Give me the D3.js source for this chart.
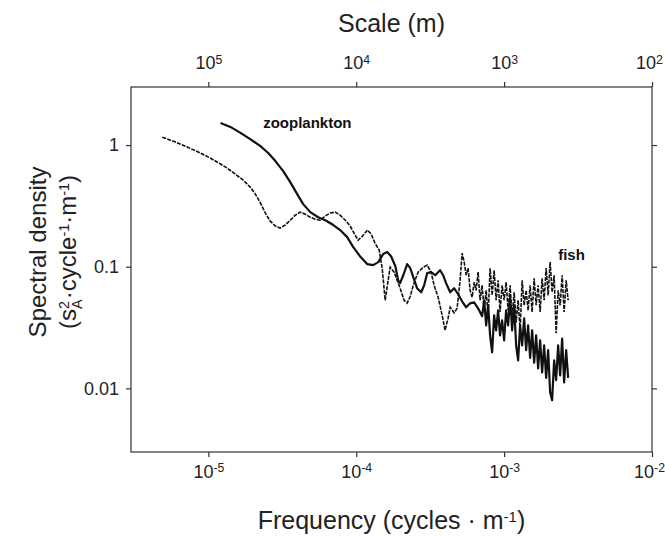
<!DOCTYPE html>
<html>
<head>
<meta charset="utf-8">
<script src="https://cdn.jsdelivr.net/npm/d3@7"></script>
<style>
  body { margin: 0; background: #fff; }
  svg { font-family: "Liberation Sans", Arial, Helvetica, sans-serif; }
</style>
</head>
<body>
<div id="chart"></div>
<script>
// spectra (frequency in cycles/m, density in sA^2 cycle^-1 m^-1)
var zooFreq = [
  1.21e-5, 1.41e-5, 1.65e-5, 1.92e-5, 2.25e-5, 2.54e-5, 2.84e-5, 3.21e-5, 3.58e-5, 3.99e-5,
  4.38e-5, 4.89e-5, 5.53e-5, 6.18e-5, 7.00e-5, 7.79e-5, 8.69e-5, 9.55e-5, 1.06e-4, 1.19e-4,
  1.30e-4, 1.41e-4, 1.52e-4, 1.62e-4, 1.72e-4, 1.84e-4, 1.92e-4, 1.98e-4, 2.08e-4, 2.21e-4,
  2.32e-4, 2.43e-4, 2.58e-4, 2.75e-4, 2.88e-4, 3.02e-4, 3.21e-4, 3.42e-4, 3.69e-4, 3.87e-4,
  4.05e-4, 4.32e-4, 4.59e-4, 4.89e-4, 5.20e-4, 5.54e-4, 5.89e-4, 6.27e-4, 6.67e-4, 7.10e-4,
  7.33e-4, 7.56e-4, 7.80e-4, 8.04e-4, 8.30e-4, 8.56e-4, 8.83e-4, 9.11e-4, 9.39e-4, 9.69e-4,
  1.000e-3, 1.032e-3, 1.064e-3, 1.098e-3, 1.133e-3, 1.169e-3, 1.206e-3, 1.244e-3, 1.283e-3, 1.324e-3,
  1.366e-3, 1.409e-3, 1.453e-3, 1.499e-3, 1.547e-3, 1.596e-3, 1.646e-3, 1.698e-3, 1.752e-3, 1.807e-3,
  1.865e-3, 1.924e-3, 1.985e-3, 2.047e-3, 2.112e-3, 2.179e-3, 2.248e-3, 2.319e-3, 2.392e-3, 2.468e-3,
  2.546e-3, 2.627e-3, 2.710e-3
];
var zooDensity = [
  1.52, 1.41, 1.26, 1.12, 0.98, 0.86, 0.738, 0.611, 0.496, 0.395,
  0.327, 0.281, 0.255, 0.241, 0.220, 0.200, 0.175, 0.145, 0.122, 0.105,
  0.103, 0.109, 0.127, 0.132, 0.122, 0.101, 0.0774, 0.0733, 0.0851, 0.105,
  0.0973, 0.082, 0.0666, 0.0617, 0.0704, 0.0886, 0.0902, 0.0851, 0.0935, 0.0851,
  0.0733, 0.0617, 0.0666, 0.0594, 0.052, 0.0464, 0.050, 0.051, 0.0455, 0.0392,
  0.053, 0.033, 0.0482, 0.0273, 0.0198, 0.0399, 0.030, 0.0438, 0.0273, 0.0363,
  0.0248, 0.0438, 0.033, 0.0552, 0.030, 0.0482, 0.0226, 0.017, 0.033, 0.0226,
  0.0377, 0.0206, 0.033, 0.0178, 0.030, 0.0163, 0.0273, 0.0146, 0.0248, 0.0135,
  0.0226, 0.0122, 0.0206, 0.0093, 0.0080, 0.017, 0.0117, 0.0226, 0.0128, 0.0257,
  0.0112, 0.0206, 0.0122
];

var fishFreq = [
  4.89e-6, 5.98e-6, 7.21e-6, 8.83e-6, 1.03e-5, 1.21e-5, 1.34e-5, 1.52e-5, 1.72e-5, 1.92e-5,
  2.08e-5, 2.25e-5, 2.43e-5, 2.62e-5, 2.84e-5, 3.06e-5, 3.31e-5, 3.58e-5, 3.87e-5, 4.18e-5,
  4.52e-5, 4.89e-5, 5.28e-5, 5.71e-5, 6.18e-5, 6.67e-5, 7.21e-5, 7.79e-5, 8.43e-5, 9.10e-5,
  9.84e-5, 1.03e-4, 1.10e-4, 1.19e-4, 1.26e-4, 1.34e-4, 1.43e-4, 1.498e-4, 1.57e-4, 1.644e-4,
  1.696e-4, 1.805e-4, 1.89e-4, 1.98e-4, 2.109e-4, 2.21e-4, 2.32e-4, 2.43e-4, 2.62e-4, 2.84e-4,
  3.02e-4, 3.21e-4, 3.36e-4, 3.58e-4, 3.81e-4, 3.99e-4, 4.18e-4, 4.32e-4, 4.59e-4, 4.81e-4,
  5.04e-4, 5.20e-4, 5.37e-4, 5.54e-4, 5.71e-4, 5.89e-4, 6.08e-4, 6.27e-4, 6.47e-4, 6.67e-4,
  6.88e-4, 7.10e-4, 7.33e-4, 7.56e-4, 7.80e-4, 8.04e-4, 8.30e-4, 8.56e-4, 8.83e-4, 9.11e-4,
  9.39e-4, 9.69e-4, 1.000e-3, 1.032e-3, 1.064e-3, 1.098e-3, 1.133e-3, 1.169e-3, 1.206e-3, 1.244e-3,
  1.283e-3, 1.324e-3, 1.366e-3, 1.409e-3, 1.453e-3, 1.499e-3, 1.547e-3, 1.596e-3, 1.646e-3, 1.698e-3,
  1.752e-3, 1.807e-3, 1.865e-3, 1.924e-3, 1.985e-3, 2.047e-3, 2.112e-3, 2.179e-3, 2.248e-3, 2.319e-3,
  2.392e-3, 2.468e-3, 2.546e-3, 2.627e-3, 2.710e-3
];
var fishDensity = [
  1.16, 1.06, 0.963, 0.86, 0.782, 0.698, 0.647, 0.577, 0.515, 0.451,
  0.395, 0.334, 0.276, 0.237, 0.216, 0.208, 0.220, 0.241, 0.265, 0.281,
  0.270, 0.255, 0.246, 0.241, 0.261, 0.276, 0.281, 0.265, 0.241, 0.216,
  0.182, 0.165, 0.178, 0.200, 0.186, 0.156, 0.137, 0.0973, 0.053, 0.0774,
  0.099, 0.0902, 0.0774, 0.0666, 0.053, 0.0502, 0.0571, 0.0704, 0.0902, 0.099,
  0.103, 0.0902, 0.0704, 0.0561, 0.0399, 0.030, 0.0377, 0.0464, 0.0418, 0.0455,
  0.0774, 0.129, 0.109, 0.0851, 0.0973, 0.064, 0.0561, 0.0745, 0.064, 0.0902,
  0.053, 0.0704, 0.0438, 0.064, 0.0399, 0.0973, 0.0582, 0.0935, 0.053, 0.0774,
  0.0424, 0.0704, 0.053, 0.0745, 0.0438, 0.0704, 0.0377, 0.0617, 0.0349, 0.053,
  0.030, 0.0774, 0.0482, 0.064, 0.0438, 0.0704, 0.0424, 0.0804, 0.0482, 0.0704,
  0.0424, 0.0804, 0.053, 0.0973, 0.0582, 0.109, 0.0617, 0.0851, 0.0284, 0.064,
  0.0482, 0.0851, 0.0424, 0.0774, 0.053
];

// axis ticks
var freqTicks = [1e-5, 1e-4, 1e-3, 1e-2];
var freqExp = ["-5", "-4", "-3", "-2"];
var scaleTicks = [1e5, 1e4, 1e3, 1e2];
var scaleExp = ["5", "4", "3", "2"];
var densityTicks = [1, 0.1, 0.01];
var densityLabels = ["1", "0.1", "0.01"];

var svgWidth = 665;
var svgHeight = 536;
var margin = { top: 87, right: 13, bottom: 84, left: 131 };
var width = svgWidth - margin.left - margin.right;
var height = svgHeight - margin.top - margin.bottom;

var svg = d3.select("#chart")
  .append("svg")
  .attr("width", svgWidth)
  .attr("height", svgHeight);

var chartGroup = svg.append("g")
  .attr("transform", `translate(${margin.left}, ${margin.top})`);

var xScale = d3.scaleLog().domain([3e-6, 1e-2]).range([0, width]);
var topScale = d3.scaleLog().domain([1 / 3e-6, 1e2]).range([0, width]);
var yScale = d3.scaleLog().domain([0.003, 3]).range([height, 0]);

var axisColor = "#333";
var textColor = "#222";

// frame
chartGroup.append("rect")
  .attr("width", width)
  .attr("height", height)
  .attr("fill", "none")
  .attr("stroke", axisColor)
  .attr("stroke-width", 1.2);

function powerLabels(sel, exps) {
  sel.selectAll(".tick text").each(function(d, i) {
    var t = d3.select(this).text(null);
    // last label sits against the page edge
    if (i === exps.length - 1) t.attr("dx", "-3");
    t.append("tspan").text("10");
    t.append("tspan").attr("dy", "-0.45em").attr("font-size", "0.68em").text(exps[i]);
  });
}

function styleAxis(g) {
  g.select(".domain").remove();
  g.selectAll(".tick line").attr("stroke", axisColor).attr("stroke-width", 1.2);
  g.selectAll(".tick text")
    .attr("fill", textColor)
    .style("font-size", "18px")
    .style("font-family", "Liberation Sans, Arial, sans-serif");
}

var bottomAxis = chartGroup.append("g")
  .attr("transform", `translate(0, ${height})`)
  .call(d3.axisBottom(xScale).tickValues(freqTicks).tickSize(5).tickPadding(8));
styleAxis(bottomAxis);
powerLabels(bottomAxis, freqExp);

var topAxis = chartGroup.append("g")
  .call(d3.axisTop(topScale).tickValues(scaleTicks).tickSize(5).tickPadding(13));
styleAxis(topAxis);
powerLabels(topAxis, scaleExp);

var leftAxis = chartGroup.append("g")
  .call(d3.axisLeft(yScale).tickValues(densityTicks).tickSize(5).tickPadding(7)
    .tickFormat((d, i) => densityLabels[i]));
styleAxis(leftAxis);

var rightAxis = chartGroup.append("g")
  .attr("transform", `translate(${width}, 0)`)
  .call(d3.axisRight(yScale).tickValues(densityTicks).tickSize(5).tickFormat(""));
styleAxis(rightAxis);

// spectra
var line = d3.line()
  .x(d => xScale(d[0]))
  .y(d => yScale(d[1]));

chartGroup.append("path")
  .datum(d3.zip(fishFreq, fishDensity))
  .attr("fill", "none")
  .attr("stroke", "#111")
  .attr("stroke-width", 1.6)
  .attr("stroke-dasharray", "4,1.2")
  .attr("d", line);

chartGroup.append("path")
  .datum(d3.zip(zooFreq, zooDensity))
  .attr("fill", "none")
  .attr("stroke", "#111")
  .attr("stroke-width", 2.2)
  .attr("stroke-linejoin", "round")
  .attr("d", line);

// series labels
chartGroup.append("text")
  .attr("x", xScale(2.35e-5))
  .attr("y", yScale(1.38))
  .attr("fill", "#111")
  .style("font-size", "15px")
  .style("font-weight", "bold")
  .text("zooplankton");

chartGroup.append("text")
  .attr("x", xScale(2.32e-3))
  .attr("y", yScale(0.113))
  .attr("fill", "#111")
  .style("font-size", "15px")
  .style("font-weight", "bold")
  .text("fish");

// axis titles
svg.append("text")
  .attr("x", margin.left + width / 2)
  .attr("y", 32)
  .attr("text-anchor", "middle")
  .attr("fill", textColor)
  .style("font-size", "25px")
  .text("Scale (m)");

var xTitle = svg.append("text")
  .attr("x", margin.left + width / 2)
  .attr("y", 529)
  .attr("text-anchor", "middle")
  .attr("fill", textColor)
  .style("font-size", "25px");
xTitle.append("tspan").text("Frequency (cycles \u00b7 m");
xTitle.append("tspan").attr("dy", "-0.5em").attr("font-size", "0.6em").text("-1");
xTitle.append("tspan").attr("dy", "0.3em").text(")");

var yTitle = svg.append("g")
  .attr("transform", "translate(46, 252) rotate(-90)");

yTitle.append("text")
  .attr("text-anchor", "middle")
  .attr("fill", textColor)
  .style("font-size", "24px")
  .text("Spectral density");

var yTitle2 = yTitle.append("text")
  .attr("y", 30)
  .attr("text-anchor", "middle")
  .attr("fill", textColor)
  .style("font-size", "24px");
yTitle2.append("tspan").text("(s");
yTitle2.append("tspan").attr("dy", "-0.5em").attr("font-size", "0.6em").text("2");
yTitle2.append("tspan").attr("dx", "-0.55em").attr("dy", "0.95em").attr("font-size", "0.6em").text("A");
yTitle2.append("tspan").attr("dy", "-0.27em").text("\u00b7cycle");
yTitle2.append("tspan").attr("dy", "-0.5em").attr("font-size", "0.6em").text("-1");
yTitle2.append("tspan").attr("dy", "0.3em").text("\u00b7m");
yTitle2.append("tspan").attr("dy", "-0.5em").attr("font-size", "0.6em").text("-1");
yTitle2.append("tspan").attr("dy", "0.3em").text(")");
</script>
</body>
</html>
